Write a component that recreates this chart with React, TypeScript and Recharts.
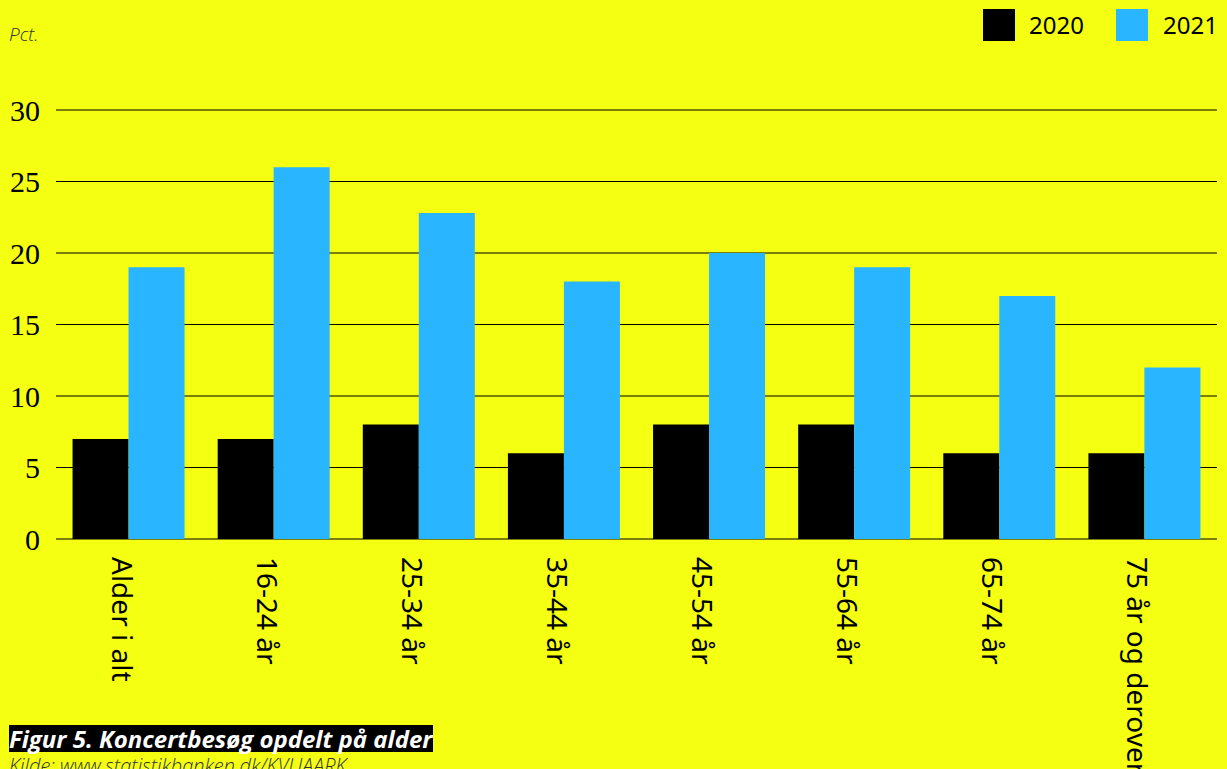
import React from "react";
import { BarChart, Bar, XAxis, YAxis, CartesianGrid } from "recharts";

const categories = ["Alder i alt", "16-24 år", "25-34 år", "35-44 år", "45-54 år", "55-64 år", "65-74 år", "75 år og derover"];
const values2020 = [7, 7, 8, 6, 8, 8, 6, 6];
const values2021 = [19, 26, 22.8, 18, 20, 19, 17, 12];
const yTicks = [0, 5, 10, 15, 20, 25, 30];
const seriesNames = ["2020", "2021"];

const BG = "#F4FF12";
const BLUE = "#29B5FF";

const data = categories.map((c, i) => ({ name: c, v2020: values2020[i], v2021: values2021[i] }));

const XTick = (props: any) => {
  const { x, y, payload } = props;
  return (
    <text
      transform={`translate(${x - 17},${y + 18}) rotate(90)`}
      textAnchor="start"
      fill="#000"
      fontSize={28}
      fontFamily="'Noto Sans', sans-serif"
    >
      {payload.value}
    </text>
  );
};

export default function App() {
  return (
    <div style={{ position: "fixed", left: 0, top: 0, width: 1227, height: 769, background: BG, overflow: "hidden" }}>
      <div style={{ position: "absolute", left: 9, top: 21, fontFamily: "'Open Sans', sans-serif", fontStyle: "italic", fontWeight: 300, fontSize: 19, color: "#333" }}>
        Pct.
      </div>
      <div style={{ position: "absolute", left: 0, top: 0 }}>
        <BarChart width={1227} height={769} data={data} margin={{ top: 110, right: 10, left: 0, bottom: 0 }} barCategoryGap="11.4%" barGap={0}>
          <CartesianGrid horizontal vertical={false} stroke="#000" strokeWidth={1} />
          <XAxis dataKey="name" height={230} axisLine={false} tickLine={false} tickSize={0} tickMargin={0} interval={0} tick={<XTick />} />
          <YAxis
            width={56}
            domain={[0, 30]}
            ticks={yTicks}
            axisLine={false}
            tickLine={false}
            tickSize={0}
            tickMargin={16}
            tick={{ fill: "#000", fontSize: 30, fontFamily: "'Liberation Serif', serif" }}
          />
          <Bar dataKey="v2020" name={seriesNames[0]} fill="#000" isAnimationActive={false} />
          <Bar dataKey="v2021" name={seriesNames[1]} fill={BLUE} isAnimationActive={false} />
        </BarChart>
      </div>
      <div style={{ position: "absolute", left: 983, top: 9, display: "flex", alignItems: "center", fontFamily: "'Noto Sans', sans-serif", fontSize: 24, color: "#000" }}>
        <div style={{ width: 32, height: 32, background: "#000" }} />
        <div style={{ marginLeft: 14, width: 87, lineHeight: "32px" }}>{seriesNames[0]}</div>
        <div style={{ width: 32, height: 32, background: BLUE }} />
        <div style={{ marginLeft: 15, lineHeight: "32px" }}>{seriesNames[1]}</div>
      </div>
      <div style={{ position: "absolute", left: 9, top: 725, height: 27, background: "#000", color: "#fff", fontFamily: "'Open Sans', sans-serif", fontStyle: "italic", fontWeight: 700, fontSize: 24, lineHeight: "27px", whiteSpace: "nowrap", paddingRight: 1 }}>
        Figur 5. Koncertbesøg opdelt på alder
      </div>
      <div style={{ position: "absolute", left: 9, top: 752, fontFamily: "'Open Sans', sans-serif", fontStyle: "italic", fontWeight: 300, fontSize: 20, color: "#333", whiteSpace: "nowrap" }}>
        Kilde: www.statistikbanken.dk/KVUAARK
      </div>
    </div>
  );
}
